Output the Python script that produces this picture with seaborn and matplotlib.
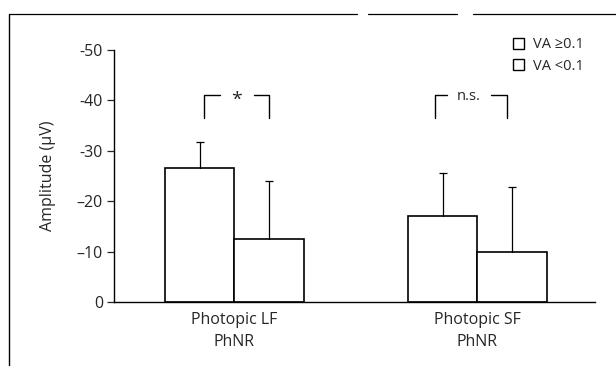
import matplotlib
matplotlib.use("Agg")
import matplotlib.pyplot as plt
import seaborn as sns
import pandas as pd
from matplotlib.patches import Patch
from matplotlib.lines import Line2D

# ---- data ----
categories = ["Photopic LF\nPhNR", "Photopic SF\nPhNR"]
groups = ["VA \u22650.1", "VA <0.1"]
means_va_high = [-26.6, -17.1]
means_va_low = [-12.5, -10.0]
sd_va_high = [5.1, 8.6]
sd_va_low = [11.5, 12.9]
yticks = [0, -10, -20, -30, -40, -50]
ytick_labels = ["0", "\u201310", "\u201320", "-30", "-40", "-50"]
sig_labels = ["*", "n.s."]

df = pd.DataFrame({
    "category": categories * 2,
    "group": [groups[0]] * 2 + [groups[1]] * 2,
    "amp": means_va_high + means_va_low,
})
sds = {groups[0]: sd_va_high, groups[1]: sd_va_low}

sns.set_style("white")
plt.rcParams["font.family"] = ["Open Sans", "DejaVu Sans"]
plt.rcParams["axes.unicode_minus"] = False

fig = plt.figure(figsize=(6.16, 3.66), dpi=100)
ax = fig.add_axes([0.1851, 0.174, 0.7808, 0.690])

sns.barplot(data=df, x="category", y="amp", hue="group", order=categories,
            hue_order=groups, palette=["white", "white"], edgecolor="black",
            linewidth=1.2, width=0.57, errorbar=None, legend=False, ax=ax,
            saturation=1)

# error bars (one-sided, upward)
for cont, g in zip(ax.containers, groups):
    for bar, sd in zip(cont, sds[g]):
        xc = bar.get_x() + bar.get_width() / 2
        y = bar.get_y() + bar.get_height()
        ax.plot([xc, xc], [y, y - sd], color="black", lw=0.9, zorder=1)
        ax.plot([xc], [y - sd], marker="_", ms=6, mew=0.9, color="black", zorder=1)

ax.set_ylim(0, -50)
ax.set_xlim(-0.495, 1.484)
ax.set_yticks(yticks)
ax.set_yticklabels(ytick_labels, fontsize=11.5)
ax.tick_params(axis="y", direction="out", length=5, width=0.9, left=True, pad=3)
ax.tick_params(axis="x", length=0, pad=7, labelsize=11.5)
for lab in ax.get_xticklabels():
    lab.set_linespacing(1.5)
for side in ["top", "right"]:
    ax.spines[side].set_visible(False)
for side in ["left", "bottom"]:
    ax.spines[side].set_linewidth(1.0)
    ax.spines[side].set_color("black")
ax.set_xlabel("")
ax.set_ylabel("Amplitude (\u00b5V)", fontsize=11.5)
ax.yaxis.set_label_coords(-0.12, 0.5)

# significance brackets
brackets = [(0, -0.125, 0.143, 0.011, 0.07), (1, -0.174, 0.122, -0.034, 0.09)]
for (ci, l, r, tc, half), lab in zip(brackets, sig_labels):
    y_top, y_leg = -41.0, -36.4
    ax.plot([ci + l, ci + l, ci + tc - half], [y_leg, y_top, y_top], color="black", lw=1.0)
    ax.plot([ci + tc + half, ci + r, ci + r], [y_top, y_top, y_leg], color="black", lw=1.0)
    ax.text(ci + tc, y_top + (0.9 if lab == "*" else 0.3), lab, ha="center", va="center",
            fontsize=14 if lab == "*" else 10.5)

# legend
handles = [Patch(facecolor="white", edgecolor="black", lw=1.0, label=g) for g in groups]
fig.legend(handles=handles, loc="upper left", bbox_to_anchor=(506 / 616, 1 - 30 / 366),
           frameon=False, fontsize=10.5, handlelength=0.75, handleheight=0.75,
           handletextpad=0.6, labelspacing=0.45, borderpad=0)

# scanned-page frame (left and top edges)
fig.add_artist(Line2D([9 / 616, 9 / 616], [0, 1 - 14 / 366], color="black", lw=1.0,
                      transform=fig.transFigure))
for x0, x1 in [(9, 357), (368, 457), (473, 616)]:
    fig.add_artist(Line2D([x0 / 616, x1 / 616], [1 - 14 / 366] * 2, color="black", lw=0.9,
                          transform=fig.transFigure))

fig.savefig("out.png", dpi=100)
